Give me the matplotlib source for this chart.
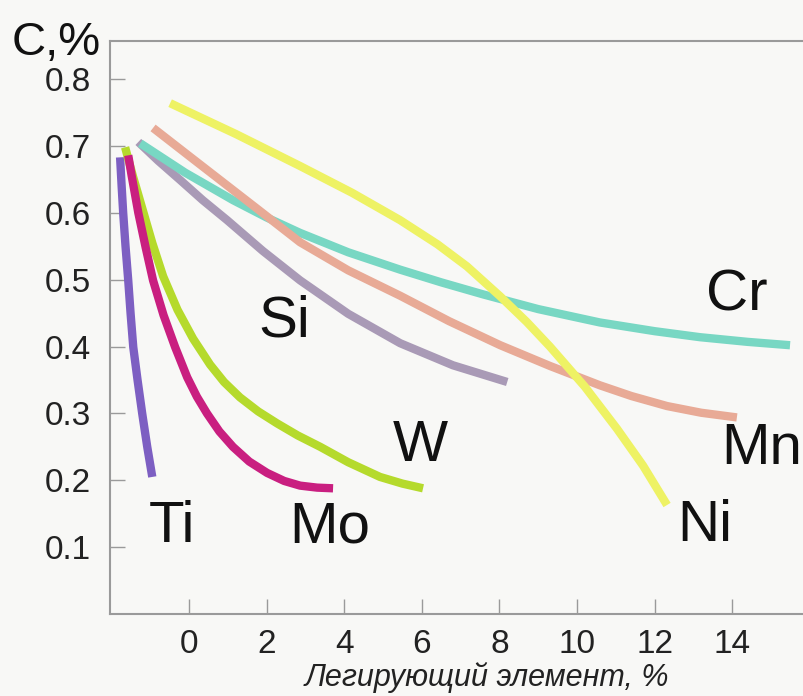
import matplotlib
matplotlib.use("Agg")
import matplotlib.pyplot as plt

plt.rcParams['font.family'] = ['Liberation Sans', 'DejaVu Sans']

# ---- data ----
ti_x = [-1.78, -1.74, -1.70, -1.64, -1.57, -1.51, -1.44, -1.33, -1.21, -1.08, -0.95]
ti_y = [0.683, 0.640, 0.600, 0.550, 0.499, 0.450, 0.399, 0.350, 0.300, 0.250, 0.205]

mo_x = [-1.57, -1.48, -1.31, -1.12, -0.93, -0.66, -0.36, -0.05, 0.20, 0.46, 0.78,
        1.13, 1.55, 2.01, 2.45, 2.86, 3.30, 3.71]
mo_y = [0.686, 0.655, 0.600, 0.548, 0.499, 0.447, 0.399, 0.354, 0.325, 0.300, 0.273,
        0.250, 0.228, 0.211, 0.199, 0.192, 0.189, 0.188]

w_x = [-1.65, -1.45, -1.20, -0.95, -0.67, -0.30, 0.10, 0.54, 0.90, 1.31, 1.78,
       2.27, 2.80, 3.38, 4.10, 4.92, 5.50, 6.03]
w_y = [0.698, 0.655, 0.605, 0.555, 0.505, 0.455, 0.412, 0.373, 0.347, 0.324, 0.303,
       0.285, 0.267, 0.250, 0.227, 0.205, 0.195, 0.188]

si_x = [-1.31, -0.80, -0.23, 0.35, 0.98, 1.90, 2.86, 4.10, 5.44, 6.80, 8.20]
si_y = [0.706, 0.678, 0.649, 0.619, 0.589, 0.543, 0.499, 0.449, 0.405, 0.372, 0.347]

cr_x = [-1.26, -0.10, 1.13, 2.00, 2.86, 4.10, 5.44, 6.50, 7.58, 9.00, 10.59,
        12.00, 13.17, 14.40, 15.49]
cr_y = [0.704, 0.660, 0.619, 0.593, 0.570, 0.541, 0.515, 0.496, 0.478, 0.456, 0.436,
        0.423, 0.414, 0.407, 0.402]

mn_x = [-0.93, 0.00, 0.80, 1.80, 2.86, 4.10, 5.44, 6.70, 8.02, 9.30, 10.59,
        11.40, 12.32, 13.20, 14.12]
mn_y = [0.727, 0.685, 0.649, 0.604, 0.556, 0.514, 0.476, 0.438, 0.402, 0.371, 0.342,
        0.326, 0.311, 0.301, 0.294]

ni_x = [-0.49, 1.20, 2.86, 4.20, 5.44, 6.40, 7.16, 8.02, 8.70, 9.30, 10.20,
        11.03, 11.70, 12.32]
ni_y = [0.764, 0.718, 0.670, 0.630, 0.589, 0.553, 0.520, 0.475, 0.437, 0.400, 0.340,
        0.277, 0.222, 0.163]

labels = ['Ti', 'Mo', 'W', 'Si', 'Cr', 'Mn', 'Ni']
label_x = [-0.44, 3.63, 5.95, 2.45, 14.12, 14.77, 13.30]
label_y = [0.130, 0.130, 0.251, 0.437, 0.477, 0.247, 0.131]

x_ticks = [0, 2, 4, 6, 8, 10, 12, 14]
y_ticks = [0.1, 0.2, 0.3, 0.4, 0.5, 0.6, 0.7, 0.8]
y_tick_labels = ['0.1', '0.2', '0.3', '0.4', '0.5', '0.6', '0.7', '0.8']

x_label = 'Легирующий элемент, %'
y_label = 'C,%'

# ---- figure ----
bg = '#f8f8f6'
fig = plt.figure(figsize=(8.04, 6.96), dpi=100, facecolor=bg)
ax = fig.add_axes([110/804, (696-614)/696, (804-110)/804, (614-41)/696])
ax.set_facecolor(bg)

series = [
    (si_x, si_y, '#a99ab6'),
    (cr_x, cr_y, '#78d7c3'),
    (mn_x, mn_y, '#e8aa96'),
    (ti_x, ti_y, '#7d5fc2'),
    (w_x, w_y, '#b5da2c'),
    (mo_x, mo_y, '#c91f80'),
    (ni_x, ni_y, '#eef264'),
]
for xs, ys, c in series:
    ax.plot(xs, ys, color=c, lw=6, solid_capstyle='butt', solid_joinstyle='round')

for t, lx, ly in zip(labels, label_x, label_y):
    ax.text(lx, ly, t, fontsize=42, ha='center', va='center', color='#111111')

ax.set_xlim(-2.04, 15.85)
ax.set_ylim(0.0, 0.857)
ax.set_xticks(x_ticks)
ax.set_xticklabels([str(v) for v in x_ticks])
ax.set_yticks(y_ticks)
ax.set_yticklabels(y_tick_labels)

ax.tick_params(axis='both', direction='in', length=11, width=1, color='#9a9a9a',
               labelsize=24, labelcolor='#222222')
ax.tick_params(axis='y', pad=14)
ax.tick_params(axis='x', pad=11)

for s in ['left', 'bottom', 'top']:
    ax.spines[s].set_color('#9a9a9a')
    ax.spines[s].set_linewidth(1.5)
ax.spines['right'].set_visible(False)

fig.text(12/804, 1 - 55/696, y_label, fontsize=34, ha='left', va='baseline', color='#111111')
fig.text(487/804, 1 - 678/696, x_label, fontsize=22, style='italic',
         ha='center', va='center', color='#222222')

fig.savefig('out.png', dpi=100, facecolor=bg)
